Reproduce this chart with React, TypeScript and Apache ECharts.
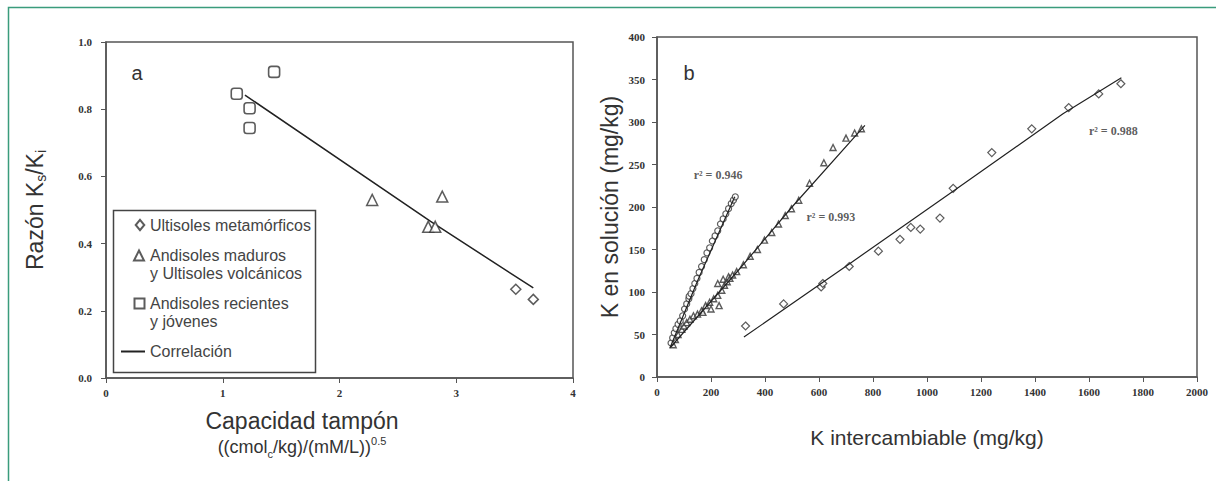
import React, { useEffect, useRef } from "react";
import * as echarts from "echarts";

// ---------- Panel a ----------
const aXTicks = [0, 1, 2, 3, 4];
const aYTicks = [0, 0.2, 0.4, 0.6, 0.8, 1.0];
const aUltisolesMetamorficos = [[3.51, 0.264], [3.66, 0.234]];
const aAndisolesMaduros = [[2.28, 0.53], [2.88, 0.54], [2.76, 0.45], [2.82, 0.45]];
const aAndisolesRecientes = [[1.12, 0.846], [1.44, 0.911], [1.23, 0.803], [1.23, 0.744]];
const aCorrelacion = [[1.19, 0.842], [2.78, 0.466], [3.66, 0.268]];
const aNames = [
  "Ultisoles metamórficos",
  "Andisoles maduros\ny Ultisoles volcánicos",
  "Andisoles recientes\ny jóvenes",
  "Correlación",
];

// ---------- Panel b ----------
const bXTicks = [0, 200, 400, 600, 800, 1000, 1200, 1400, 1600, 1800, 2000];
const bYTicks = [0, 50, 100, 150, 200, 250, 300, 350, 400];
const bDiamonds = [
  [328, 60], [469, 86], [608, 106], [614, 110], [712, 130], [820, 148], [900, 162],
  [940, 176], [975, 174], [1048, 187], [1097, 222], [1240, 264], [1388, 292],
  [1525, 317], [1636, 333], [1718, 345],
];
const bDiamondsLine = [[322, 47], [712, 133], [1090, 217], [1505, 310], [1720, 352]];
const bTriangles = [
  [60, 38], [68, 44], [78, 50], [92, 56], [100, 60], [110, 64], [122, 68], [135, 72],
  [150, 74], [165, 78], [170, 76], [180, 84], [195, 88], [200, 80], [210, 92], [225, 96],
  [225, 110], [230, 84], [240, 102], [245, 115], [250, 108], [260, 112], [265, 118],
  [270, 116], [280, 120], [295, 124], [320, 132], [345, 142], [372, 150], [398, 161],
  [425, 170], [450, 180], [475, 190], [498, 198], [525, 208], [565, 228], [618, 252],
  [652, 270], [700, 281], [732, 287], [757, 292],
];
const bTrianglesLine = [[50, 35], [300, 125], [500, 200], [770, 296]];
const bCircles = [
  [52, 40], [58, 46], [64, 52], [70, 57], [78, 62], [86, 66], [95, 72], [102, 80],
  [110, 86], [118, 92], [119, 95], [126, 98], [133, 104], [140, 110], [148, 116],
  [156, 123], [165, 130], [175, 138], [185, 146], [195, 152], [205, 160], [215, 166],
  [225, 172], [235, 180], [245, 186], [255, 192], [265, 198], [275, 204], [283, 208],
  [290, 212],
];
const bCirclesLine = [[48, 34], [150, 113], [288, 212]];
const bR2Labels = ["r² = 0.946", "r² = 0.993", "r² = 0.988"];
const bR2Positions = [[226, 238], [644, 188], [1690, 289]];

const SANS = "'Liberation Sans', Arial, sans-serif";
const SERIF = "'Liberation Serif', 'Times New Roman', serif";
const AXIS = "#555";
const INK = "#333";

// legend icons drawn in a 24 x 11 box (corner moves pin the box)
const BOX = "M0,0 M24,11 ";
const iconDiamond = "path://" + BOX + "M19,0.3 L23.3,5.5 L19,10.7 L14.7,5.5 Z";
const iconTriangle = "path://" + BOX + "M18,0.5 L23,10.5 L13,10.5 Z";
const iconSquare = "path://" + BOX + "M13.5,0.5 L23.5,0.5 L23.5,10.5 L13.5,10.5 Z";

export default function App() {
  const ref = useRef<HTMLDivElement>(null);

  useEffect(() => {
    if (!ref.current) return;
    const chart = echarts.init(ref.current, undefined, { renderer: "svg" });

    const tickLabel = {
      fontFamily: SERIF,
      fontWeight: "bold" as const,
      fontSize: 11,
      color: INK,
    };
    const hollow = (bw: number) => ({
      color: "#fff",
      borderColor: INK,
      borderWidth: bw,
    });
    const LH = 17.5;

    const option: any = {
      animation: false,
      backgroundColor: "#fff",
      grid: [
        { left: 106, top: 42, width: 467, height: 336, show: true, borderColor: AXIS, borderWidth: 1.5, backgroundColor: "transparent" },
        { left: 657, top: 37, width: 540, height: 340, show: true, borderColor: AXIS, borderWidth: 1.5, backgroundColor: "transparent" },
      ],
      xAxis: [
        {
          gridIndex: 0,
          type: "value",
          min: aXTicks[0],
          max: aXTicks[aXTicks.length - 1],
          interval: 1,
          axisLine: { show: true, lineStyle: { color: AXIS, width: 1.5 } },
          axisTick: { show: true, length: 5, lineStyle: { color: AXIS } },
          axisLabel: { ...tickLabel, margin: 9, formatter: (v: number) => String(v) },
          splitLine: { show: false },
        },
        {
          gridIndex: 1,
          type: "value",
          min: bXTicks[0],
          max: bXTicks[bXTicks.length - 1],
          interval: 200,
          axisLine: { show: true, lineStyle: { color: AXIS, width: 1.5 } },
          axisTick: { show: true, length: 5, lineStyle: { color: AXIS } },
          axisLabel: { ...tickLabel, margin: 9, formatter: (v: number) => String(v) },
          splitLine: { show: false },
          name: "K intercambiable (mg/kg)",
          nameLocation: "middle",
          nameGap: 50,
          nameTextStyle: { fontFamily: SANS, fontSize: 21, color: INK },
        },
      ],
      yAxis: [
        {
          gridIndex: 0,
          type: "value",
          min: aYTicks[0],
          max: aYTicks[aYTicks.length - 1],
          interval: 0.2,
          axisLine: { show: true, lineStyle: { color: AXIS, width: 1.5 } },
          axisTick: { show: true, length: 5, lineStyle: { color: AXIS } },
          axisLabel: { ...tickLabel, margin: 14, formatter: (v: number) => v.toFixed(1) },
          splitLine: { show: false },
          name: "{m|Razón K}{s|s}{m|/K}{s|i}",
          nameLocation: "middle",
          nameRotate: 90,
          nameGap: 58,
          nameTextStyle: {
            rich: {
              m: { fontFamily: SANS, fontSize: 23, color: INK, lineHeight: 27 },
              s: { fontFamily: SANS, fontSize: 14, color: INK, lineHeight: 27, verticalAlign: "bottom" },
            },
          },
        },
        {
          gridIndex: 1,
          type: "value",
          min: bYTicks[0],
          max: bYTicks[bYTicks.length - 1],
          interval: 50,
          axisLine: { show: true, lineStyle: { color: AXIS, width: 1.5 } },
          axisTick: { show: true, length: 5, lineStyle: { color: AXIS } },
          axisLabel: { ...tickLabel, margin: 12, formatter: (v: number) => String(v) },
          splitLine: { show: false },
          name: "K en solución (mg/kg)",
          nameLocation: "middle",
          nameRotate: 90,
          nameGap: 36,
          nameTextStyle: { fontFamily: SANS, fontSize: 23, color: INK },
        },
      ],
      legend: {
        data: [
          { name: aNames[0], icon: iconDiamond },
          { name: aNames[1], icon: iconTriangle, textStyle: { padding: [LH, 0, 0, 0] } },
          { name: aNames[2], icon: iconSquare, textStyle: { padding: [LH, 0, 0, 0] } },
          { name: aNames[3], itemStyle: { opacity: 0 }, textStyle: { padding: [LH, 0, LH, 0] } },
        ],
        orient: "vertical",
        left: 114,
        top: 210.25,
        padding: [6, 6, 0, 6],
        itemGap: -4.5,
        itemWidth: 24,
        itemHeight: 11,
        symbolKeepAspect: true,
        borderWidth: 0,
        backgroundColor: "transparent",
        textStyle: {
          fontFamily: SANS,
          fontSize: 16,
          color: "#444",
          lineHeight: LH,
          rich: { n: { fontFamily: SANS, fontSize: 16, color: "#444", lineHeight: LH } },
        },
      },
      graphic: [
        {
          type: "rect",
          silent: true,
          shape: { x: 8.5, y: 7.5, width: 1400, height: 700 },
          style: { fill: "none", stroke: "#3a9c7c", lineWidth: 1.5 },
        },
        {
          type: "rect",
          silent: true,
          z: -1,
          shape: { x: 113.5, y: 210.5, width: 202, height: 162 },
          style: { fill: "#fff", stroke: "#444", lineWidth: 1.5 },
        },
        {
          type: "text",
          x: 137,
          y: 73,
          style: { text: "a", font: `20px ${SANS}`, fill: INK, align: "center", verticalAlign: "middle" },
        },
        {
          type: "text",
          x: 689,
          y: 73,
          style: { text: "b", font: `20px ${SANS}`, fill: INK, align: "center", verticalAlign: "middle" },
        },
        {
          type: "text",
          x: 302,
          y: 421,
          style: { text: "Capacidad tampón", font: `23px ${SANS}`, fill: INK, align: "center", verticalAlign: "middle" },
        },
        {
          type: "text",
          x: 302,
          y: 447,
          style: {
            text: "{m|((cmol}{s|c}{m|/kg)/(mM/L))}{p|0.5}",
            align: "center",
            verticalAlign: "middle",
            rich: {
              m: { fontFamily: SANS, fontSize: 18, fill: INK, lineHeight: 24 },
              s: { fontFamily: SANS, fontSize: 11, fill: INK, lineHeight: 24, verticalAlign: "bottom" },
              p: { fontFamily: SANS, fontSize: 11, fill: INK, lineHeight: 24, verticalAlign: "top" },
            },
          },
        },
      ],
      series: [
        {
          name: aNames[0],
          type: "scatter",
          xAxisIndex: 0,
          yAxisIndex: 0,
          symbol: "diamond",
          symbolSize: 10,
          itemStyle: hollow(1.5),
          data: aUltisolesMetamorficos,
        },
        {
          name: aNames[1],
          type: "scatter",
          xAxisIndex: 0,
          yAxisIndex: 0,
          symbol: "triangle",
          symbolSize: 11,
          itemStyle: hollow(1.5),
          data: aAndisolesMaduros,
        },
        {
          name: aNames[2],
          type: "scatter",
          xAxisIndex: 0,
          yAxisIndex: 0,
          symbol: "roundRect",
          symbolSize: 11,
          itemStyle: hollow(1.6),
          data: aAndisolesRecientes,
        },
        {
          name: aNames[3],
          type: "line",
          xAxisIndex: 0,
          yAxisIndex: 0,
          symbol: "none",
          lineStyle: { color: "#222", width: 1.5 },
          itemStyle: { color: "#222" },
          data: aCorrelacion,
          z: 1,
        },
        {
          name: "b-diamantes",
          type: "scatter",
          xAxisIndex: 1,
          yAxisIndex: 1,
          symbol: "diamond",
          symbolSize: 8,
          itemStyle: hollow(1.2),
          data: bDiamonds,
        },
        {
          name: "b-diamantes-ajuste",
          type: "line",
          xAxisIndex: 1,
          yAxisIndex: 1,
          symbol: "none",
          lineStyle: { color: "#222", width: 1.2 },
          data: bDiamondsLine,
        },
        {
          name: "b-triangulos",
          type: "scatter",
          xAxisIndex: 1,
          yAxisIndex: 1,
          symbol: "triangle",
          symbolSize: 6,
          itemStyle: hollow(1.4),
          data: bTriangles,
        },
        {
          name: "b-triangulos-ajuste",
          type: "line",
          xAxisIndex: 1,
          yAxisIndex: 1,
          symbol: "none",
          lineStyle: { color: "#222", width: 1.2 },
          data: bTrianglesLine,
        },
        {
          name: "b-circulos",
          type: "scatter",
          xAxisIndex: 1,
          yAxisIndex: 1,
          symbol: "circle",
          symbolSize: 6,
          itemStyle: hollow(1.2),
          data: bCircles,
        },
        {
          name: "b-circulos-ajuste",
          type: "line",
          xAxisIndex: 1,
          yAxisIndex: 1,
          symbol: "none",
          lineStyle: { color: "#222", width: 1.2 },
          data: bCirclesLine,
        },
        {
          name: "b-r2",
          type: "scatter",
          xAxisIndex: 1,
          yAxisIndex: 1,
          symbolSize: 1,
          silent: true,
          itemStyle: { color: "transparent" },
          label: {
            show: true,
            position: "inside",
            formatter: "{b}",
            fontFamily: SERIF,
            fontWeight: "bold",
            fontSize: 12,
            color: INK,
          },
          data: bR2Labels.map((t, i) => ({ name: t, value: bR2Positions[i] })),
        },
      ],
    };

    chart.setOption(option);
    return () => chart.dispose();
  }, []);

  return (
    <div
      ref={ref}
      style={{ position: "fixed", left: 0, top: 0, width: 1216, height: 481 }}
    />
  );
}
